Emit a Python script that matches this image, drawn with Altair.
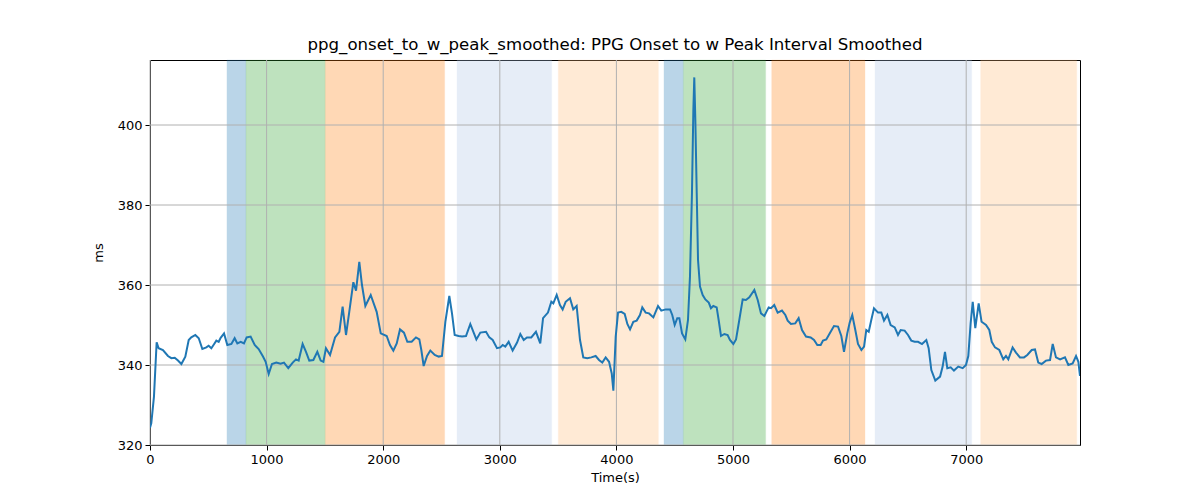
import altair as alt
import pandas as pd

# ---- data ----
time_s = [0, 11, 34, 57, 74, 111, 154, 183, 212, 240, 269, 303, 332, 354, 389, 418, 449, 483, 503, 526,
          549, 569, 589, 606, 635, 663, 698, 726, 749, 778, 806, 829, 863, 898, 932, 969, 992, 1018, 1046, 1083,
          1120, 1149, 1186, 1224, 1252, 1275, 1309, 1338, 1366, 1401, 1435, 1464, 1487, 1509, 1544, 1587, 1624,
          1652, 1681, 1709, 1744, 1767, 1795, 1818, 1847, 1893, 1944, 1979, 2030, 2058, 2087, 2116, 2144, 2178,
          2207, 2244, 2281, 2310, 2327, 2347, 2376, 2404, 2442, 2476, 2504, 2533, 2567, 2590, 2613, 2647, 2676,
          2710, 2747, 2776, 2799, 2833, 2882, 2910, 2939, 2976, 3004, 3025, 3047, 3076, 3110, 3148, 3176, 3205,
          3233, 3270, 3310, 3347, 3371, 3413, 3442, 3459, 3488, 3516, 3539, 3565, 3602, 3630, 3659, 3688, 3716,
          3750, 3785, 3822, 3851, 3879, 3908, 3937, 3960, 3974, 3994, 4014, 4042, 4071, 4094, 4117, 4145, 4174,
          4202, 4222, 4251, 4280, 4317, 4357, 4385, 4423, 4460, 4479, 4500, 4522, 4540, 4563, 4591, 4614, 4631,
          4648, 4660, 4668, 4677, 4689, 4700, 4717, 4740, 4763, 4792, 4811, 4831, 4860, 4877, 4897, 4926, 4954,
          4974, 5003, 5026, 5054, 5083, 5111, 5140, 5183, 5212, 5240, 5269, 5283, 5306, 5326, 5354, 5383, 5420,
          5449, 5469, 5497, 5534, 5563, 5592, 5626, 5666, 5695, 5723, 5752, 5772, 5800, 5829, 5866, 5901, 5929,
          5952, 5980, 6001, 6023, 6049, 6072, 6101, 6124, 6143, 6164, 6186, 6209, 6244, 6272, 6295, 6324, 6352,
          6387, 6415, 6438, 6472, 6501, 6529, 6558, 6587, 6621, 6658, 6678, 6701, 6735, 6776, 6798, 6818, 6838,
          6867, 6895, 6932, 6970, 6998, 7018, 7038, 7056, 7078, 7107, 7132, 7170, 7198, 7219, 7247, 7284, 7318,
          7341, 7361, 7398, 7427, 7461, 7496, 7524, 7562, 7590, 7618, 7647, 7684, 7719, 7742, 7770, 7805, 7847,
          7876, 7913, 7942, 7962, 7976]
ms = [324.3, 325.4, 332.1, 345.7, 344.2, 343.75, 342.25, 341.7, 341.8, 341.1, 340.25, 342.1, 346.25, 346.9,
      347.5, 346.7, 344.0, 344.4, 344.8, 344.2, 345.2, 346.1, 345.8, 346.8, 347.9, 345.0, 345.25, 346.7, 345.4,
      345.8, 345.4, 346.9, 347.1, 345.0, 344.0, 342.1, 340.8, 337.75, 340.25, 340.6,
      340.3, 340.6, 339.2, 340.6, 341.4, 341.1, 345.25, 343.3, 341.1, 341.25, 343.3, 341.1, 340.8, 344.2,
      342.5, 346.9, 348.3, 354.6, 347.5, 353.3, 360.7, 358.6, 365.8, 360.0, 354.75, 357.5, 353.3, 347.9,
      347.25, 345.0, 343.6, 345.4, 348.9, 348.1, 345.8, 345.8, 346.9, 346.4, 343.75, 339.75, 342.25, 343.6,
      342.5, 342.1, 342.25, 350.8, 357.25, 352.9, 347.5, 347.25, 347.1, 347.25, 350.25, 348.1, 346.4, 348.1,
      348.3, 346.9, 346.25, 344.2, 344.4, 345.0, 344.6, 345.8, 343.6, 345.6, 347.75, 346.25, 346.9, 346.9,
      348.3, 345.4, 351.7, 353.1, 355.8, 355.4, 357.5, 355.0, 353.9, 355.8, 356.7, 353.9, 354.75, 346.25,
      341.9, 341.7, 341.9, 342.25, 341.25, 340.6, 341.9, 340.8, 337.9, 333.6, 347.1, 353.1, 353.3, 352.75,
      350.25, 348.9, 350.8, 351.1, 352.5, 354.4, 353.1, 352.9, 351.9, 354.75, 353.6, 353.9, 353.9, 352.5,
      350.0, 351.7, 351.7, 347.9, 346.4, 351.25, 362.1, 382.9, 403.75, 411.9, 401.25, 382.9, 366.25, 359.6,
      357.5, 356.4, 355.6, 354.2, 354.75, 354.4, 351.25, 347.25, 347.75, 347.5, 346.25, 345.25, 346.4,
      351.25, 356.4, 356.25, 356.9, 358.75, 356.25, 352.9, 352.25, 353.1, 354.4, 354.2, 355.0, 353.1, 353.6,
      352.5, 351.1, 350.25, 350.4, 351.7, 348.75, 347.1, 346.9, 346.25, 345.0, 345.0, 346.1, 346.4, 347.9,
      349.75, 349.6, 347.25, 343.3, 347.9, 350.6, 352.5, 348.75, 345.25, 343.75, 344.6, 348.75, 348.3,
      351.25, 354.2, 353.1, 353.1, 351.1, 352.5, 350.0, 349.4, 347.5, 348.75, 348.6, 347.5, 346.1, 345.8,
      345.8, 345.25, 346.25, 344.2, 338.75, 336.1, 337.1, 339.6, 343.3, 339.2, 339.4, 338.6, 339.6, 339.2,
      340.0, 342.25, 350.4, 355.8, 349.2, 355.4, 350.8, 350.0, 348.75, 345.8, 344.4, 343.75, 341.4, 342.25,
      341.4, 344.4, 343.1, 341.9, 341.9, 342.5, 343.75, 343.9, 340.6, 340.25, 341.1, 341.25, 345.25, 341.9,
      341.4, 341.9, 340.0, 340.4, 342.25, 340.8, 337.25]

band_start = [660, 823, 1503, 2633, 3502, 4408, 4574, 5332, 6218, 7124]
band_end = [823, 1503, 2527, 3445, 4360, 4574, 5280, 6132, 7047, 7948]
band_kind = ["blue", "green", "orange", "lightblue", "lightorange",
             "blue", "green", "orange", "lightblue", "lightorange"]
kind_names = ["blue", "green", "orange", "lightblue", "lightorange"]
kind_colors = ["#1f77b4", "#2ca02c", "#ff7f0e", "#aec7e8", "#ffbb78"]

x_ticks = [0, 1000, 2000, 3000, 4000, 5000, 6000, 7000]
y_ticks = [320, 340, 360, 380, 400]
x_domain = [0, 7976]
y_domain = [320, 416.25]

title_text = "ppg_onset_to_w_peak_smoothed: PPG Onset to w Peak Interval Smoothed"

# ---- tables ----
line_df = pd.DataFrame({"t": time_s, "v": ms})
band_df = pd.DataFrame({"t": band_start, "e": band_end, "k": band_kind,
                        "v": [y_domain[0]] * len(band_start), "v1": [y_domain[1]] * len(band_start)})
xgrid_df = pd.DataFrame({"t": x_ticks})
ygrid_df = pd.DataFrame({"v": y_ticks})

W, H = 930, 385
FONT = "DejaVu Sans"

xscale = alt.Scale(domain=x_domain, nice=False, zero=False)
yscale = alt.Scale(domain=y_domain, nice=False, zero=False)

x_axis = alt.Axis(values=x_ticks, format="d", title="Time(s)", grid=False, domain=False,
                  tickColor="black", tickSize=5, labelFontSize=13, titleFontSize=13,
                  labelFont=FONT, titleFont=FONT, labelColor="black", titleColor="black",
                  titleFontWeight="normal", labelPadding=3, titlePadding=5, labelFlush=False)
y_axis = alt.Axis(values=y_ticks, title="ms", grid=False, domain=False,
                  tickColor="black", tickSize=5, labelFontSize=13, titleFontSize=13,
                  labelFont=FONT, titleFont=FONT, labelColor="black", titleColor="black",
                  titleFontWeight="normal", labelPadding=3, titlePadding=12, labelFlush=False)

X = lambda f: alt.X(f, scale=xscale, axis=x_axis, title="Time(s)")
Y = lambda f: alt.Y(f, scale=yscale, axis=y_axis, title="ms")

bands = alt.Chart(band_df).mark_rect(opacity=0.3, strokeWidth=1, strokeOpacity=0.3).encode(
    x=X("t:Q"),
    x2="e:Q",
    y=Y("v:Q"),
    y2="v1:Q",
    color=alt.Color("k:N", scale=alt.Scale(domain=kind_names, range=kind_colors), legend=None),
    stroke=alt.Stroke("k:N", scale=alt.Scale(domain=kind_names, range=kind_colors), legend=None),
)

xgrid = alt.Chart(xgrid_df).mark_rule(color="#b0b0b0", strokeWidth=1).encode(x=X("t:Q"))
ygrid = alt.Chart(ygrid_df).mark_rule(color="#b0b0b0", strokeWidth=1).encode(y=Y("v:Q"))

line = alt.Chart(line_df).mark_line(color="#1f77b4", strokeWidth=2, clip=True).encode(
    x=X("t:Q"),
    y=Y("v:Q"),
)

chart = alt.layer(bands, xgrid, ygrid, line).properties(
    width=W, height=H,
    title=alt.TitleParams(title_text, fontSize=16.6, font=FONT, fontWeight="normal",
                          color="black", anchor="middle", offset=6),
    autosize=alt.AutoSizeParams(type="none"),
    padding={"left": 142, "top": 52, "right": 112, "bottom": 47},
).configure_view(stroke="black", strokeWidth=1)

chart.save("out.html", embed_options={"renderer": "svg", "actions": False})
